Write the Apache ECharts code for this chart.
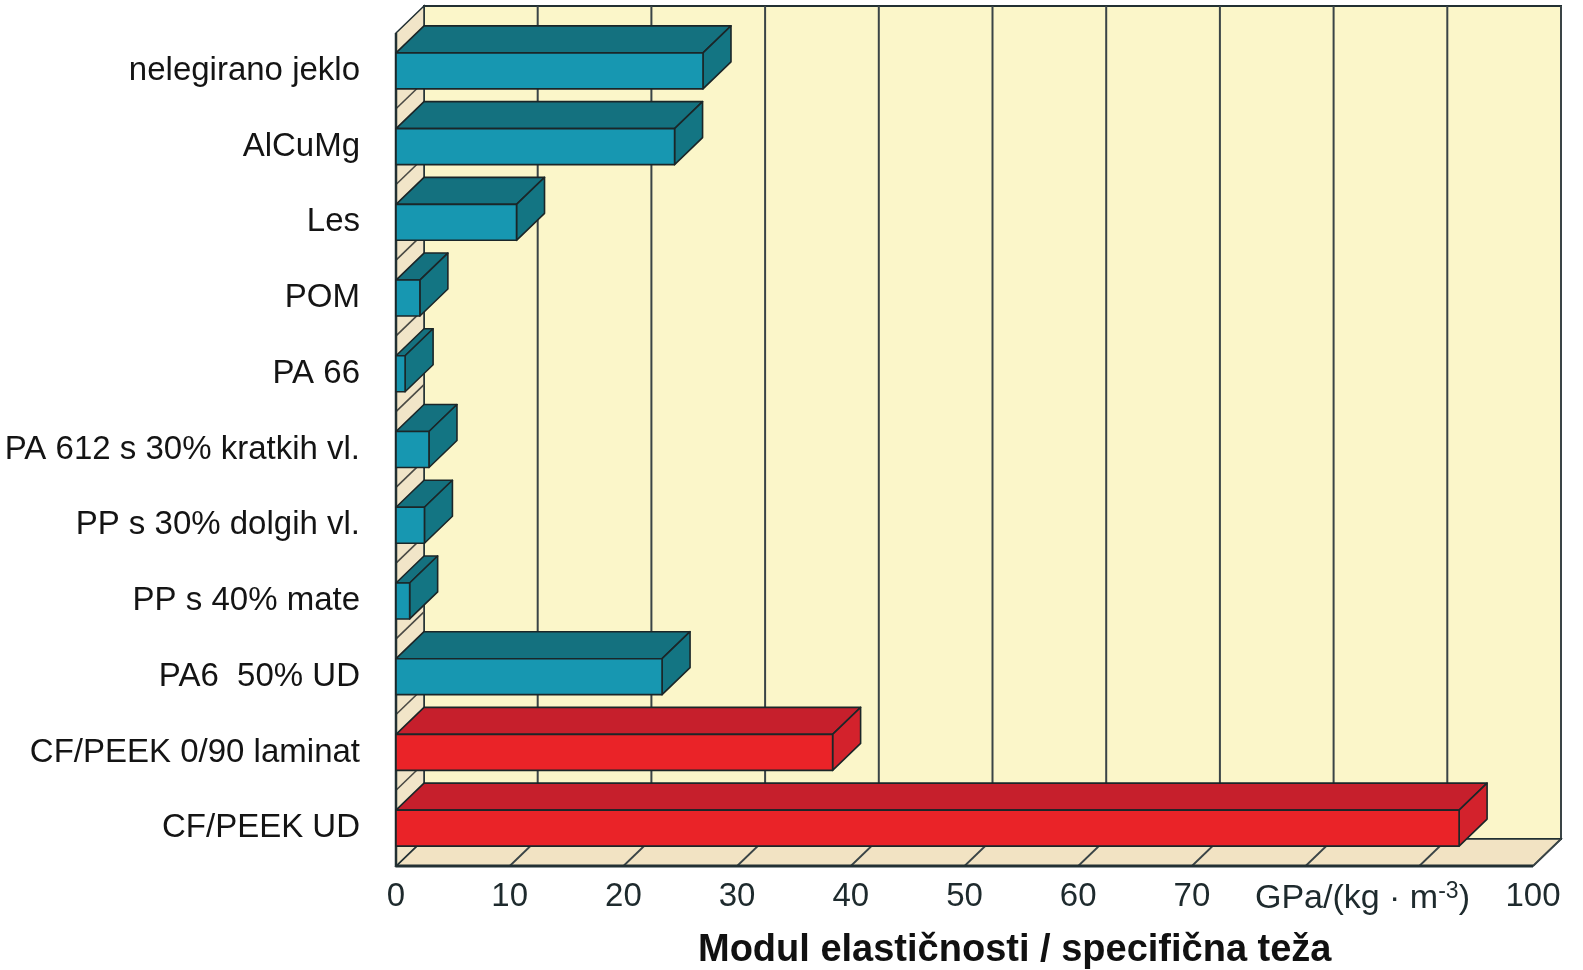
<!DOCTYPE html>
<html>
<head>
<meta charset="utf-8">
<script src="https://cdn.jsdelivr.net/npm/echarts@6/dist/echarts.min.js"></script>
<style>
  html, body { margin: 0; padding: 0; background: #ffffff; }
  #chart { width: 1583px; height: 970px; }
</style>
</head>
<body>
<div id="chart"></div>
<script>
// Specific stiffness of engineering materials (modulus / density)
const categories = [
  'nelegirano jeklo', 'AlCuMg', 'Les', 'POM', 'PA 66',
  'PA 612 s 30% kratkih vl.', 'PP s 30% dolgih vl.', 'PP s 40% mate',
  'PA6  50% UD', 'CF/PEEK 0/90 laminat', 'CF/PEEK UD'
];
const conventionalValues = [27.0, 24.5, 10.6, 2.1, 0.8, 2.9, 2.5, 1.2, 23.4, null, null];
const cfPeekValues = [null, null, null, null, null, null, null, null, null, 38.4, 93.5];
const xTickValues = [0, 10, 20, 30, 40, 50, 60, 70, 85, 100];
const xTickLabels = ['0', '10', '20', '30', '40', '50', '60', '70', '{u|GPa/(kg · m}{sup|-3}{u|)}', '100'];
const gridValues = [0, 10, 20, 30, 40, 50, 60, 70, 80, 90, 100];
const axisTitle = 'Modul elastičnosti / specifična teža';

// oblique depth of the pseudo-3D box, in pixels
const DX = 28, DY = -27;
const INK = '#223033';
const FONT = '"Liberation Sans", Arial, Helvetica, sans-serif';

const chart = echarts.init(document.getElementById('chart'), null, { renderer: 'canvas' });

function toSeriesData(values) {
  const out = [];
  values.forEach(function (v, i) { if (v != null) out.push([v, i]); });
  return out;
}

// back wall, floor and left wall with their grid lines
function renderFrame(params, api) {
  const n = categories.length;
  const band = api.size([0, 1])[1];
  const topY = api.coord([0, 0])[1] - band / 2;
  const botY = api.coord([0, n - 1])[1] + band / 2;
  const x0 = api.coord([0, 0])[0];
  const x1 = api.coord([100, 0])[0];
  const children = [];
  // back wall
  children.push({
    type: 'rect',
    shape: { x: x0 + DX, y: topY + DY, width: x1 - x0, height: botY - topY },
    style: { fill: '#fbf6c9', stroke: INK, lineWidth: 2 }
  });
  gridValues.forEach(function (g) {
    const x = api.coord([g, 0])[0] + DX;
    children.push({
      type: 'line',
      shape: { x1: x, y1: topY + DY, x2: x, y2: botY + DY },
      style: { stroke: '#3a4446', lineWidth: 2 }
    });
  });
  // floor
  children.push({
    type: 'polygon',
    shape: { points: [[x0, botY], [x1, botY], [x1 + DX, botY + DY], [x0 + DX, botY + DY]] },
    style: { fill: '#f2e3c3', stroke: INK, lineWidth: 1.5 }
  });
  gridValues.forEach(function (g) {
    const x = api.coord([g, 0])[0];
    children.push({
      type: 'line',
      shape: { x1: x, y1: botY, x2: x + DX, y2: botY + DY },
      style: { stroke: '#3a4446', lineWidth: 1.8 }
    });
  });
  // left wall
  children.push({
    type: 'polygon',
    shape: { points: [[x0, topY], [x0 + DX, topY + DY], [x0 + DX, botY + DY], [x0, botY]] },
    style: { fill: '#f1e5c8', stroke: INK, lineWidth: 1.5 }
  });
  for (let i = 1; i < n; i++) {
    const y = api.coord([0, i])[1] - band / 2;
    children.push({
      type: 'line',
      shape: { x1: x0, y1: y, x2: x0 + DX, y2: y + DY },
      style: { stroke: '#4a4a44', lineWidth: 1.6 }
    });
  }
  // front edges
  children.push({
    type: 'line',
    shape: { x1: x0, y1: topY, x2: x0, y2: botY },
    style: { stroke: INK, lineWidth: 2.5 }
  });
  children.push({
    type: 'line',
    shape: { x1: x0, y1: botY, x2: x1, y2: botY },
    style: { stroke: INK, lineWidth: 3 }
  });
  return { type: 'group', children: children };
}

function makeBarRenderer(front, top, side) {
  return function (params, api) {
    const v = api.value(0);
    const c = api.value(1);
    const p0 = api.coord([0, c]);
    const p1 = api.coord([v, c]);
    const h = api.size([0, 1])[1] * 0.475;
    const yT = p0[1] - h / 2, yB = p0[1] + h / 2;
    const xa = p0[0], xb = p1[0];
    const line = { stroke: '#1b2628', lineWidth: 1.6, lineJoin: 'round' };
    return {
      type: 'group',
      children: [
        { type: 'polygon', shape: { points: [[xa, yT], [xb, yT], [xb + DX, yT + DY], [xa + DX, yT + DY]] },
          style: Object.assign({ fill: top }, line) },
        { type: 'polygon', shape: { points: [[xb, yT], [xb + DX, yT + DY], [xb + DX, yB + DY], [xb, yB]] },
          style: Object.assign({ fill: side }, line) },
        { type: 'rect', shape: { x: xa, y: yT, width: xb - xa, height: h },
          style: Object.assign({ fill: front }, line) }
      ]
    };
  };
}

const option = {
  animation: false,
  backgroundColor: '#ffffff',
  title: {
    text: axisTitle,
    left: 693,
    top: 927,
    textStyle: { fontFamily: FONT, fontSize: 38, fontWeight: 'bold', color: '#111111' }
  },
  grid: { left: 396, right: 50, top: 33, bottom: 104, containLabel: false },
  xAxis: {
    type: 'value',
    min: 0, max: 100, interval: 10,
    axisLine: { show: false },
    axisTick: { show: false },
    splitLine: { show: false },
    axisLabel: {
      customValues: xTickValues,
      margin: 14,
      fontFamily: FONT,
      fontSize: 33,
      color: '#1e2a2d',
      formatter: function (val) {
        const i = xTickValues.indexOf(val);
        return i >= 0 ? xTickLabels[i] : '';
      },
      rich: {
        u: { fontFamily: FONT, fontSize: 34, color: '#1e2a2d', lineHeight: 38 },
        sup: { fontFamily: FONT, fontSize: 23, color: '#1e2a2d', verticalAlign: 'top', lineHeight: 20 }
      }
    }
  },
  yAxis: {
    type: 'category',
    data: categories,
    inverse: true,
    axisLine: { show: false },
    axisTick: { show: false },
    splitLine: { show: false },
    axisLabel: { margin: 36, fontFamily: FONT, fontSize: 33, color: '#141414' }
  },
  series: [
    {
      name: 'frame',
      type: 'custom',
      z: 1,
      silent: true,
      clip: false,
      renderItem: renderFrame,
      data: [[0, 0]],
      encode: { x: 0, y: 1 }
    },
    {
      name: 'Kovine, les, polimeri',
      type: 'custom',
      z: 2,
      clip: false,
      renderItem: makeBarRenderer('#1797b1', '#14717f', '#137583'),
      data: toSeriesData(conventionalValues),
      encode: { x: 0, y: 1 }
    },
    {
      name: 'CF/PEEK',
      type: 'custom',
      z: 2,
      clip: false,
      renderItem: makeBarRenderer('#ea2328', '#c61f2c', '#d3222c'),
      data: toSeriesData(cfPeekValues),
      encode: { x: 0, y: 1 }
    }
  ]
};

chart.setOption(option);
</script>
</body>
</html>
